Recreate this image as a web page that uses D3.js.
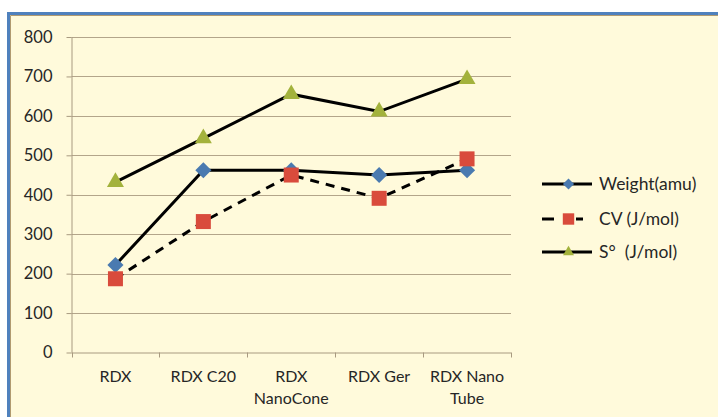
<!DOCTYPE html>
<html>
<head>
<meta charset="utf-8">
<script src="https://cdn.jsdelivr.net/npm/d3@7"></script>
<style>
  html, body { margin: 0; padding: 0; background: #ffffff; }
  svg { display: block; font-family: Lato, "Open Sans", sans-serif; }
  .legend-label { white-space: pre; }
</style>
</head>
<body>
<svg id="chart" width="718" height="417"></svg>
<script>
// Compounds along the x axis (label lines separated by "\n")
const categories = ["RDX", "RDX C20", "RDX\nNanoCone", "RDX Ger", "RDX Nano\nTube"];
const weightAmu = [222, 462, 462, 450, 462];
const cvJmol    = [187, 332, 450, 391, 491];
const sJmol     = [432, 543, 655, 611, 693];
const yTicks    = [0, 100, 200, 300, 400, 500, 600, 700, 800];
const seriesNames = ["Weight(amu)", "CV (J/mol)", "S°  (J/mol)"];

// Diamond drawn as a square turned 45 degrees
const symbolRhombus = {
  draw(context, size) {
    const h = Math.sqrt(size / 2);
    context.moveTo(0, -h);
    context.lineTo(h, 0);
    context.lineTo(0, h);
    context.lineTo(-h, 0);
    context.closePath();
  }
};

const series = [
  { name: seriesNames[0], values: weightAmu, color: "#4a7ab0", symbol: symbolRhombus,   size: 130, legendSize: 62, dash: null },
  { name: seriesNames[1], values: cvJmol,    color: "#d94b3c", symbol: d3.symbolSquare,  size: 225, legendSize: 130, dash: "9,7" },
  { name: seriesNames[2], values: sJmol,     color: "#a3b23c", symbol: d3.symbolTriangle, size: 125, legendSize: 52, dash: null }
];

const svg = d3.select("#chart");

// Chart frame
svg.append("rect")
  .attr("x", 8.5).attr("y", 13.5)
  .attr("width", 718).attr("height", 420)
  .attr("fill", "#fffadb")
  .attr("stroke", "#4f81bd").attr("stroke-width", 3);
svg.append("path")
  .attr("d", "M10.5,430V15.5H720")
  .attr("fill", "none").attr("stroke", "#b09a70").attr("stroke-width", 1);

const plot = { left: 71.5, right: 511, top: 37, bottom: 352.5 };

const x = d3.scaleBand().domain(categories).range([plot.left, plot.right]).padding(0);
const y = d3.scaleLinear().domain([0, 800]).range([plot.bottom, plot.top]);
const cx = c => x(c) + x.bandwidth() / 2;

// Horizontal gridlines
svg.append("g")
  .selectAll("line")
  .data(yTicks.filter(t => t > 0))
  .join("line")
  .attr("x1", plot.left).attr("x2", plot.right)
  .attr("y1", d => Math.round(y(d)) + 0.5).attr("y2", d => Math.round(y(d)) + 0.5)
  .attr("stroke", "#b3a58a").attr("stroke-width", 1);

// Y axis
const yAxis = svg.append("g")
  .attr("transform", `translate(${plot.left},0)`)
  .call(d3.axisLeft(y).tickValues(yTicks).tickSize(5).tickPadding(14));
yAxis.select(".domain").attr("stroke", "#a89a80").attr("d", `M0.5,${plot.top}V${plot.bottom}`);
yAxis.selectAll(".tick line").attr("stroke", "#a89a80");
yAxis.selectAll(".tick text")
  .attr("font-size", 16.5).attr("fill", "#262626")
  .style("font-family", "Lato, sans-serif");

// X axis with tick marks on band boundaries
const xg = svg.append("g").attr("transform", `translate(0,${plot.bottom})`);
xg.append("line")
  .attr("x1", plot.left).attr("x2", plot.right).attr("y1", 0.5).attr("y2", 0.5)
  .attr("stroke", "#a89a80");
const bounds = categories.map(c => x(c)).concat([plot.right]);
xg.selectAll("line.tk").data(bounds).join("line")
  .attr("class", "tk")
  .attr("x1", d => Math.round(d) + 0.5).attr("x2", d => Math.round(d) + 0.5)
  .attr("y1", 0).attr("y2", 5)
  .attr("stroke", "#a89a80");
const labelLines = categories.flatMap(c => c.split("\n").map((t, i) => ({ c, t, i })));
xg.selectAll("text").data(labelLines).join("text")
  .attr("x", d => cx(d.c))
  .attr("y", d => 29 + d.i * 22)
  .attr("text-anchor", "middle")
  .attr("font-size", 16).attr("fill", "#262626")
  .text(d => d.t);

// Series lines and markers
const line = d3.line()
  .x((d, i) => cx(categories[i]))
  .y(d => y(d));

series.forEach(s => {
  svg.append("path")
    .datum(s.values)
    .attr("d", line)
    .attr("fill", "none")
    .attr("stroke", "#000")
    .attr("stroke-width", 3)
    .attr("stroke-dasharray", s.dash);
});
series.forEach(s => {
  svg.append("g").selectAll("path")
    .data(s.values)
    .join("path")
    .attr("transform", (d, i) => `translate(${cx(categories[i])},${y(d)})`)
    .attr("d", d3.symbol(s.symbol, s.size))
    .attr("fill", s.color);
});

// Legend
const legend = svg.append("g");
const legendRows = [184, 219, 252];
series.forEach((s, i) => {
  const g = legend.append("g").attr("transform", `translate(0,${legendRows[i]})`);
  if (s.dash) {
    g.append("line").attr("x1", 542).attr("x2", 554).attr("y1", 0).attr("y2", 0)
      .attr("stroke", "#000").attr("stroke-width", 3);
    g.append("line").attr("x1", 576).attr("x2", 583).attr("y1", 0).attr("y2", 0)
      .attr("stroke", "#000").attr("stroke-width", 3);
  } else {
    g.append("line").attr("x1", 542).attr("x2", 592).attr("y1", 0).attr("y2", 0)
      .attr("stroke", "#000").attr("stroke-width", 3);
  }
  g.append("path")
    .attr("transform", `translate(568.5,0)`)
    .attr("d", d3.symbol(s.symbol, s.legendSize))
    .attr("fill", s.color);
  g.append("text")
    .attr("class", "legend-label")
    .attr("x", 599).attr("y", 6)
    .attr("font-size", 17.5).attr("fill", "#262626")
    .text(s.name);
});
</script>
</body>
</html>
